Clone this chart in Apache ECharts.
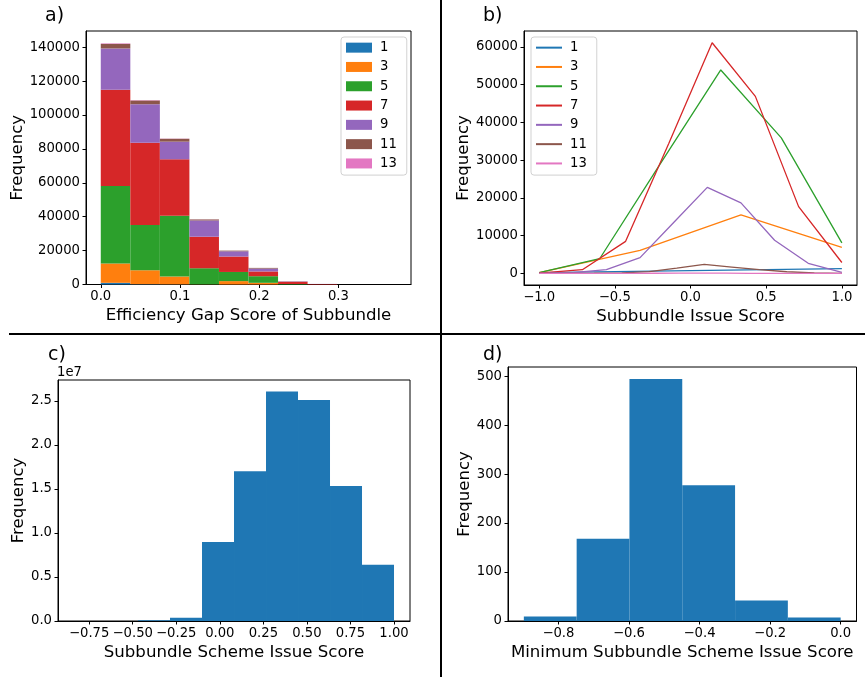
<!DOCTYPE html>
<html><head><meta charset="utf-8">
<script src="https://cdn.jsdelivr.net/npm/echarts@6/dist/echarts.min.js"></script>
<style>html,body{margin:0;padding:0;background:#fff}#c{width:865px;height:677px}</style>
</head><body><div id="c"></div>
<script>
// ---------- shared ----------
const sizes = ['1', '3', '5', '7', '9', '11', '13'];
const colors = ['#1f77b4', '#ff7f0e', '#2ca02c', '#d62728', '#9467bd', '#8c564b', '#e377c2'];

// ---------- panel a: stacked histogram of efficiency gap score ----------
const aBinEdges = [0.0, 0.0373, 0.0746, 0.1119, 0.1492, 0.1865, 0.2238, 0.2611, 0.2984, 0.3357, 0.373];
const aCount1  = [1000,  200,   100,   0,     0,    0,    0,    0,   0, 0];
const aCount3  = [11400, 8200,  4600,  100,   2000, 1000, 0,    0,   0, 0];
const aCount5  = [45700, 26700, 35900, 9500,  5400, 3900, 300,  0,   0, 0];
const aCount7  = [56900, 48600, 33300, 18600, 9100, 2800, 1300, 300, 0, 0];
const aCount9  = [24300, 22700, 10400, 9600,  3100, 1700, 200,  50,  0, 0];
const aCount11 = [2700,  2200,  1700,  600,   400,  400,  100,  0,   0, 0];
const aCount13 = [300,   200,   100,   50,    0,    0,    0,    0,   0, 0];
const aCounts = [aCount1, aCount3, aCount5, aCount7, aCount9, aCount11, aCount13];
const aXTicks = [0, 0.1, 0.2, 0.3];
const aYTicks = [0, 20000, 40000, 60000, 80000, 100000, 120000, 140000];

// ---------- panel b: subbundle issue score lines ----------
const bX1  = [-1, 1];
const bY1  = [200, 1300];
const bX3  = [-1, -0.3333, 0.3333, 1];
const bY3  = [200, 6100, 15500, 6900];
const bX5  = [-1, -0.6, -0.2, 0.2, 0.6, 1];
const bY5  = [200, 3900, 29000, 53900, 35900, 8100];
const bX7  = [-1, -0.7143, -0.4286, -0.1429, 0.1429, 0.4286, 0.7143, 1];
const bY7  = [100, 1000, 8500, 34500, 61100, 46900, 17700, 2900];
const bX9  = [-1, -0.7778, -0.5556, -0.3333, -0.1111, 0.1111, 0.3333, 0.5556, 0.7778, 1];
const bY9  = [0, 200, 1000, 4200, 13500, 22800, 18700, 8800, 2700, 300];
const bX11 = [-1, -0.8182, -0.6364, -0.4545, -0.2727, -0.0909, 0.0909, 0.2727, 0.4545, 0.6364, 0.8182, 1];
const bY11 = [0, 20, 60, 150, 500, 1400, 2400, 1700, 1000, 450, 150, 20];
const bX13 = [-1, -0.8462, -0.6923, -0.5385, -0.3846, -0.2308, -0.0769, 0.0769, 0.2308, 0.3846, 0.5385, 0.6923, 0.8462, 1];
const bY13 = [0, 0, 5, 10, 30, 60, 100, 110, 80, 40, 15, 5, 0, 0];
const bXs = [bX1, bX3, bX5, bX7, bX9, bX11, bX13];
const bYs = [bY1, bY3, bY5, bY7, bY9, bY11, bY13];
const bXTicks = [-1, -0.5, 0, 0.5, 1];
const bYTicks = [0, 10000, 20000, 30000, 40000, 50000, 60000];

// ---------- panel c: subbundle scheme issue score ----------
const cBinEdges = [-0.837, -0.6533, -0.4696, -0.2859, -0.1022, 0.0815, 0.2652, 0.4489, 0.6326, 0.8163, 1.0];
const cCounts = [2000, 10000, 80000, 375000, 8980000, 17000000, 26060000, 25080000, 15340000, 6400000];
const cXTicks = [-0.75, -0.5, -0.25, 0, 0.25, 0.5, 0.75, 1.0];
const cYTicks = [0, 5e6, 1e7, 1.5e7, 2e7, 2.5e7];

// ---------- panel d: minimum subbundle scheme issue score ----------
const dBinEdges = [-0.898, -0.7483, -0.5987, -0.449, -0.2993, -0.1497, 0.0];
const dCounts = [9, 168, 494, 277, 42, 7];
const dXTicks = [-0.8, -0.6, -0.4, -0.2, 0.0];
const dYTicks = [0, 100, 200, 300, 400, 500];

// ---------- helpers ----------
const FONT = 'DejaVu Sans';
function signed(v, d) {
  const s = Math.abs(v).toFixed(d);
  return (v < -1e-9 ? '\u2212' : '') + s;
}
function axis(gi, min, max, ticks, fmt, name, gap) {
  return {
    type: 'value', gridIndex: gi, min: min, max: max,
    name: name, nameLocation: 'middle', nameGap: gap,
    nameTextStyle: { fontFamily: FONT, fontSize: 16.6, color: '#000' },
    axisLine: { show: true, onZero: false, lineStyle: { color: '#000', width: 1 } },
    axisTick: { show: true, customValues: ticks, length: 3.5, lineStyle: { color: '#000', width: 1 } },
    axisLabel: { show: true, customValues: ticks, formatter: fmt, fontFamily: FONT, fontSize: 13.2, color: '#000', margin: 6 },
    splitLine: { show: false }
  };
}
function histItem(params, api) {
  const p0 = api.coord([api.value(0), api.value(3)]);
  const p1 = api.coord([api.value(1), api.value(2)]);
  return {
    type: 'rect',
    shape: { x: p0[0], y: p0[1], width: p1[0] - p0[0], height: p1[1] - p0[1] },
    style: { fill: api.visual('color') }
  };
}
function histData(edges, counts, bases) {
  return counts.map((c, i) => {
    const b = bases ? bases[i] : 0;
    return [edges[i], edges[i + 1], b, b + c];
  });
}

// ---------- series ----------
const series = [];
const aBase = aBinEdges.slice(0, -1).map(() => 0);
aCounts.forEach((cnts, k) => {
  const base = aBase.slice();
  series.push({
    type: 'custom', name: sizes[k], xAxisIndex: 0, yAxisIndex: 0,
    renderItem: histItem, itemStyle: { color: colors[k] },
    encode: { x: [0, 1], y: [2, 3] },
    data: histData(aBinEdges, cnts, base)
  });
  cnts.forEach((c, i) => { aBase[i] += c; });
});
bXs.forEach((xs, k) => {
  series.push({
    type: 'line', name: sizes[k], xAxisIndex: 1, yAxisIndex: 1,
    showSymbol: false, symbol: 'none',
    lineStyle: { color: colors[k], width: 1.3 }, itemStyle: { color: colors[k] },
    data: xs.map((x, i) => [x, bYs[k][i]])
  });
});
series.push({
  type: 'custom', name: 'c', xAxisIndex: 2, yAxisIndex: 2,
  renderItem: histItem, itemStyle: { color: '#1f77b4' },
  encode: { x: [0, 1], y: [2, 3] },
  data: histData(cBinEdges, cCounts)
});
series.push({
  type: 'custom', name: 'd', xAxisIndex: 3, yAxisIndex: 3,
  renderItem: histItem, itemStyle: { color: '#1f77b4' },
  encode: { x: [0, 1], y: [2, 3] },
  data: histData(dBinEdges, dCounts)
});

const legendCommon = {
  orient: 'vertical', data: sizes, itemGap: 0, itemWidth: 26,
  textStyle: { fontFamily: FONT, fontSize: 13.2, color: '#000', lineHeight: 19.3, padding: [0, 0, 0, 3] },
  borderColor: 'rgba(204,204,204,0.9)', borderWidth: 1, borderRadius: 3,
  backgroundColor: 'rgba(255,255,255,0.8)', padding: [1, 10, 2, 5],
  selectedMode: false
};

const titleStyle = { fontFamily: FONT, fontSize: 19, fontWeight: 'normal', color: '#000' };

const option = {
  animation: false,
  backgroundColor: '#fff',
  title: [
    { text: 'a)', left: 45, top: 7, textStyle: titleStyle, padding: 0 },
    { text: 'b)', left: 483, top: 7, textStyle: titleStyle, padding: 0 },
    { text: 'c)', left: 48, top: 346, textStyle: titleStyle, padding: 0 },
    { text: 'd)', left: 483, top: 346, textStyle: titleStyle, padding: 0 },
    { text: '1e7', left: 57, top: 366, padding: 0,
      textStyle: { fontFamily: FONT, fontSize: 13.2, fontWeight: 'normal', color: '#000' } }
  ],
  legend: [
    Object.assign({}, legendCommon, { left: 341, top: 37, icon: 'rect', itemHeight: 10 }),
    Object.assign({}, legendCommon, { left: 531, top: 37, icon: 'rect', itemHeight: 2 })
  ],
  grid: [
    { left: 86, top: 31, right: 454, bottom: 392.5, show: true, borderColor: '#000', borderWidth: 1 },
    { left: 524, top: 31, right: 8, bottom: 392, show: true, borderColor: '#000', borderWidth: 1 },
    { left: 58, top: 380, right: 455, bottom: 56, show: true, borderColor: '#000', borderWidth: 1 },
    { left: 508, top: 367, right: 8.5, bottom: 56, show: true, borderColor: '#000', borderWidth: 1 }
  ],
  xAxis: [
    axis(0, -0.01865, 0.39165, aXTicks, v => signed(v, 1), 'Efficiency Gap Score of Subbundle', 23),
    axis(1, -1.1, 1.1, bXTicks, v => signed(v, 1), 'Subbundle Issue Score', 23),
    axis(2, -0.9289, 1.0918, cXTicks, v => signed(v, 2), 'Subbundle Scheme Issue Score', 23),
    axis(3, -0.9429, 0.0449, dXTicks, v => signed(v, 1), 'Minimum Subbundle Scheme Issue Score', 23)
  ],
  yAxis: [
    axis(0, 0, 149600, aYTicks, v => String(v), 'Frequency', 59),
    axis(1, -3058, 64218, bYTicks, v => String(v), 'Frequency', 50),
    axis(2, 0, 2.736e7, cYTicks, v => (v / 1e7).toFixed(1), 'Frequency', 31),
    axis(3, 0, 518.7, dYTicks, v => String(v), 'Frequency', 34)
  ],
  graphic: [
    { type: 'line', shape: { x1: 441, y1: 0, x2: 441, y2: 677 }, style: { stroke: '#000', lineWidth: 2 } },
    { type: 'line', shape: { x1: 9, y1: 334, x2: 865, y2: 334 }, style: { stroke: '#000', lineWidth: 2 } }
  ],
  series: series
};

const chart = echarts.init(document.getElementById('c'), null, { renderer: 'canvas' });
chart.setOption(option);
</script>
</body></html>
